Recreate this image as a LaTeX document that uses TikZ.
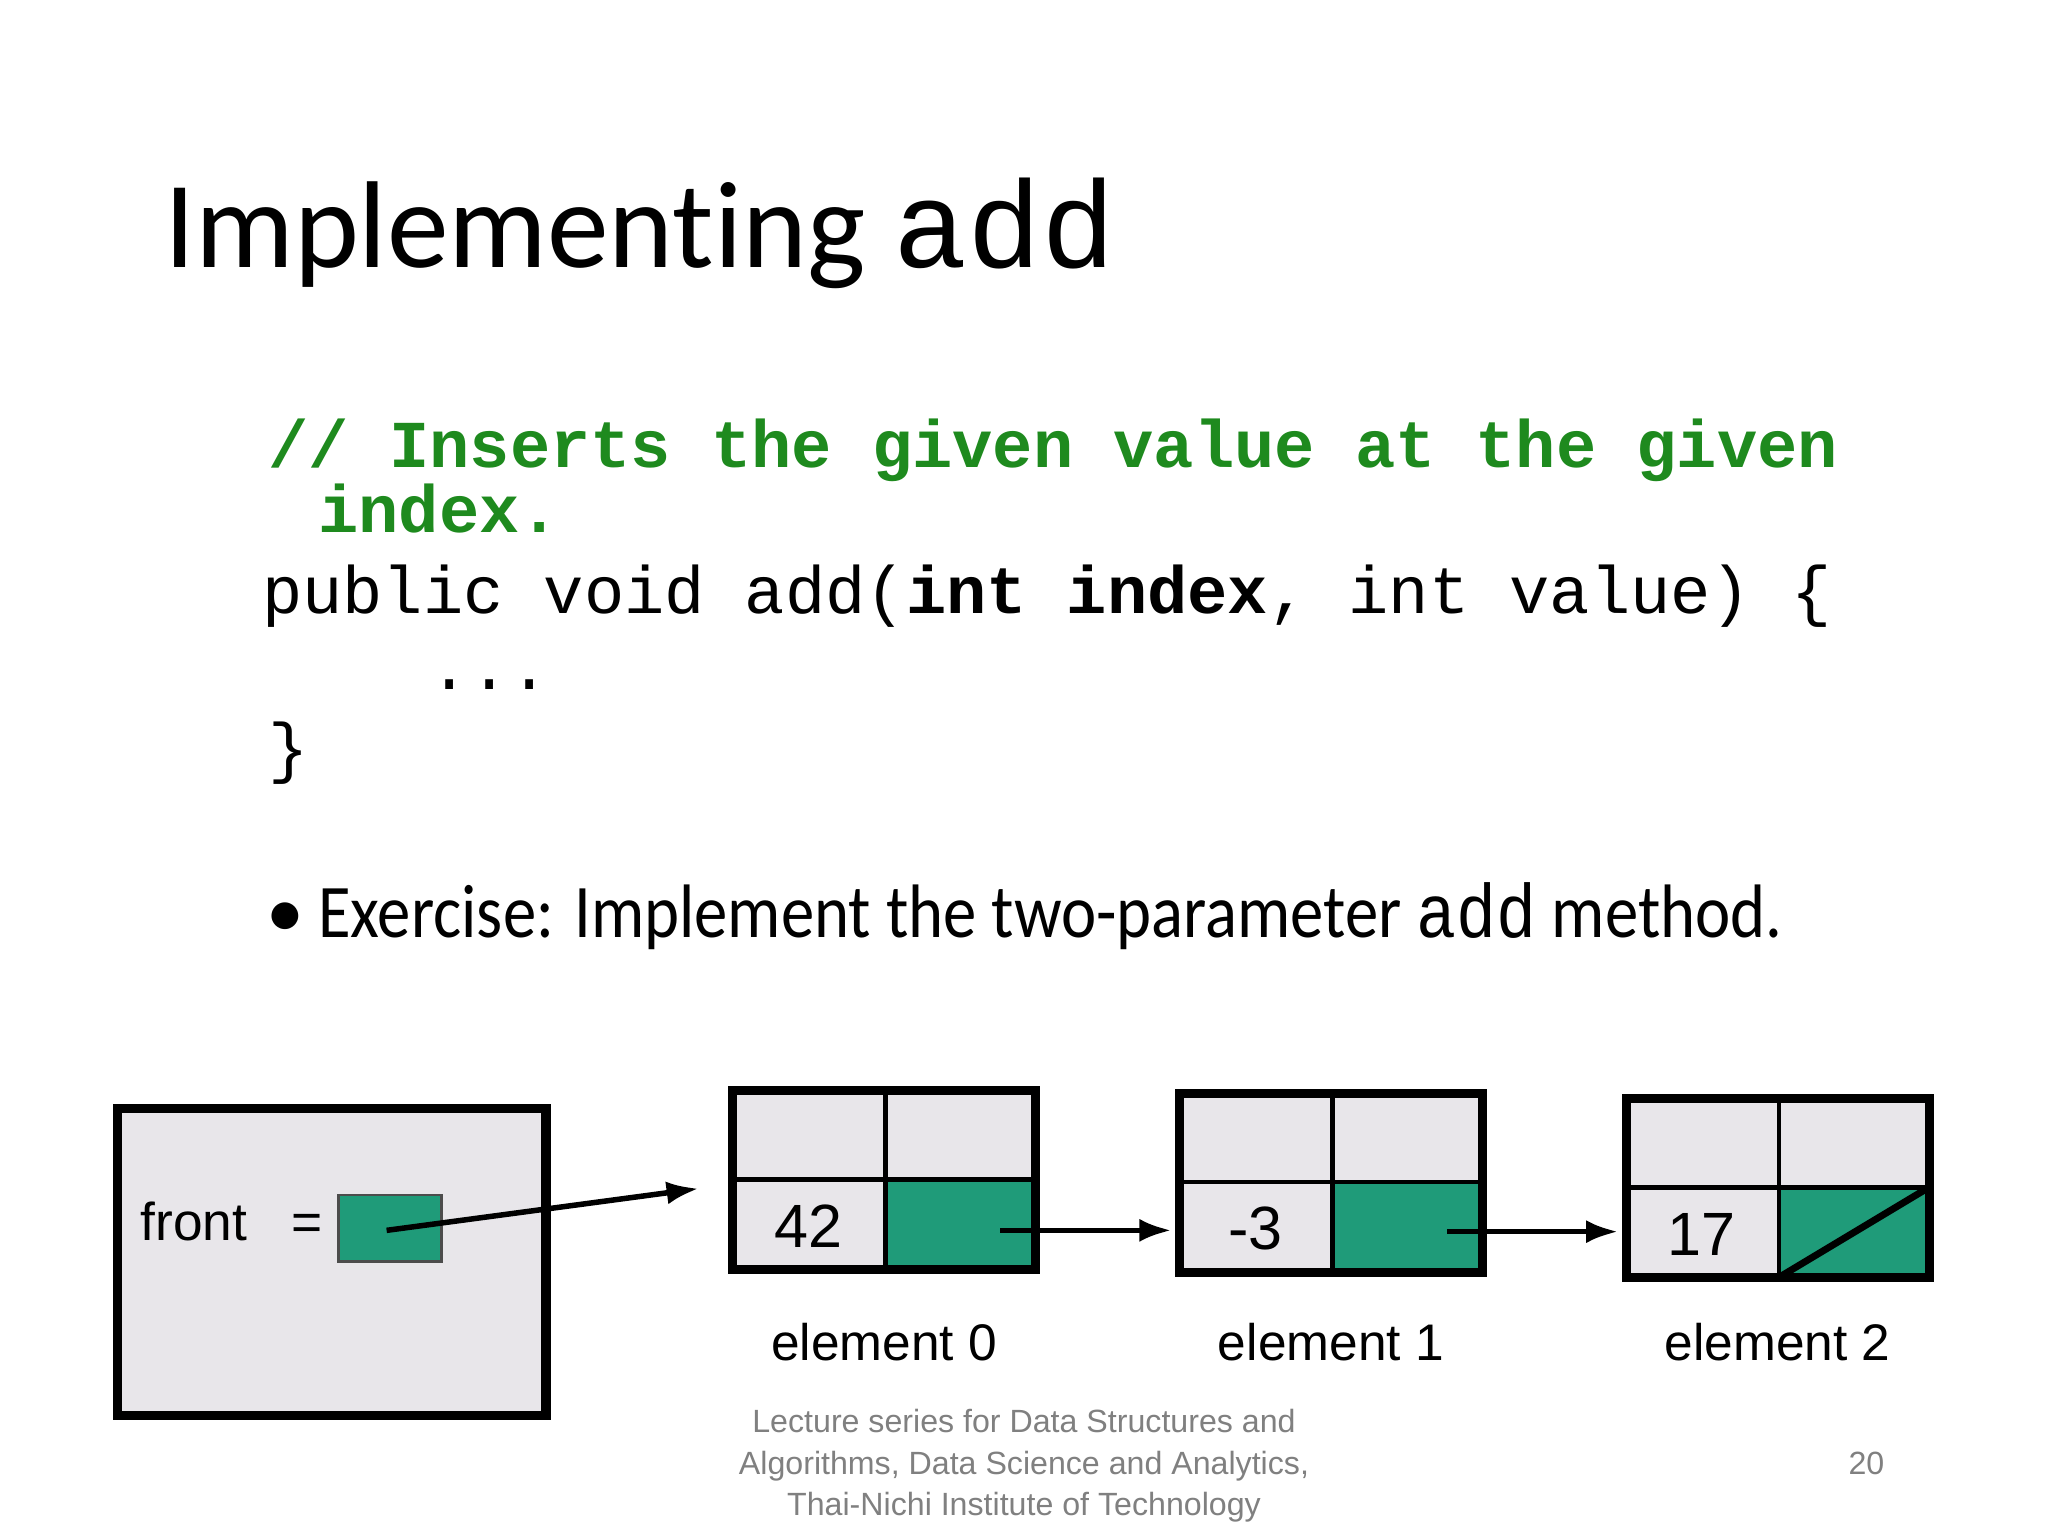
\documentclass[tikz,border=0pt]{standalone}
\usepackage{fontspec}
\setmainfont{Carlito}[Ligatures=CommonOff]
\setsansfont{Liberation Sans}
\setmonofont{Liberation Mono}
\definecolor{cgreen}{HTML}{1F9B79}
\definecolor{cgray}{HTML}{E8E6EA}
\definecolor{codegreen}{HTML}{1E8A1E}
\usetikzlibrary{arrows.meta}
\begin{document}
\begin{tikzpicture}[x=0.01cm,y=-0.01cm,
  cell/.style={draw=black,line width=1pt},
  outer/.style={draw=black,line width=2pt},
  ptr/.style={-{Latex[length=7pt,width=5pt]},line width=1.2pt},
  lab/.style={font=\sffamily\fontsize{11.2}{13}\selectfont,anchor=base},
  foot/.style={font=\sffamily\fontsize{7}{8}\selectfont,text=gray,anchor=base}]
\useasboundingbox[fill=white] (0,0) rectangle (1568,1176);
\node[anchor=base west,inner sep=0,font=\fontsize{26.9}{30}\selectfont] (title) at (125,205) {Implementing {\ttfamily add}};
\node[anchor=base west,inner sep=0,font=\ttfamily\bfseries\fontsize{14.6}{16}\selectfont,text=codegreen] (c1) at (205,358) {// Inserts the given value at the given};
\node[anchor=base west,inner sep=0,font=\ttfamily\bfseries\fontsize{14.6}{16}\selectfont,text=codegreen] (c2) at (243,408) {index.};
\node[anchor=base west,inner sep=0,font=\ttfamily\fontsize{14.6}{16}\selectfont] (c3) at (200,470) {public void add(\textbf{int index}, int value) \{};
\node[anchor=base west,inner sep=0,font=\ttfamily\fontsize{14.6}{16}\selectfont] (c4) at (328,528) {...};
\node[anchor=base west,inner sep=0,font=\ttfamily\fontsize{14.6}{16}\selectfont] (c5) at (205,590) {\}};
\node[anchor=base west,inner sep=0,font=\fontsize{16.5}{18}\selectfont] (bulm) at (203,718) {•};
\node[anchor=base west,inner sep=0,font=\fontsize{16.5}{18}\selectfont] (bul) at (243,718) {\scalebox{0.88}[1]{Exercise: Implement the two-parameter {\ttfamily add} method.}};
% front box
\draw[outer,fill=cgray] (90,849) rectangle (418,1084);
\node[anchor=base west,inner sep=0,font=\sffamily\fontsize{11.6}{13}\selectfont] (front) at (107,950) {front\ \ \ =};
\draw[draw=black!70,line width=0.6pt,fill=cgreen] (259,915) rectangle (338,966);
\coordinate (fs) at (296,942);
\coordinate (n0in) at (535,910);
\draw[ptr] (fs) -- (n0in);
% nodes
\foreach \x/\y/\v/\n in {561/835/42/0, 903/837/-3/1, 1245/841/17/2}{
  \fill[cgray] (\x,\y) rectangle (\x+232,\y+137);
  \fill[cgreen] (\x+117,\y+68) rectangle (\x+232,\y+137);
  \draw[cell] (\x+117,\y) -- (\x+117,\y+137);
  \draw[cell] (\x,\y+68) -- (\x+232,\y+68);
  \draw[outer] (\x,\y) rectangle (\x+232,\y+137);
  \node[lab,font=\sffamily\fontsize{13.3}{15}\selectfont] at (\x+58,\y+120) {\v};
  \node[lab] at (\x+116,1042) {element \n};
}
\coordinate (p0) at (766,942); \coordinate (n1in) at (897,942);
\coordinate (p1) at (1108,943); \coordinate (n2in) at (1239,943);
\draw[ptr] (p0) -- (n1in);
\draw[ptr] (p1) -- (n2in);
\draw[line width=1.5pt] (1362,978) -- (1477,909);
% footer
\node[foot] at (784,1097) {Lecture series for Data Structures and};
\node[foot] at (784,1129) {Algorithms, Data Science and Analytics,};
\node[foot] at (784,1160) {Thai-Nichi Institute of Technology};
\node[foot] at (1429,1129) {20};
\end{tikzpicture}
\end{document}
